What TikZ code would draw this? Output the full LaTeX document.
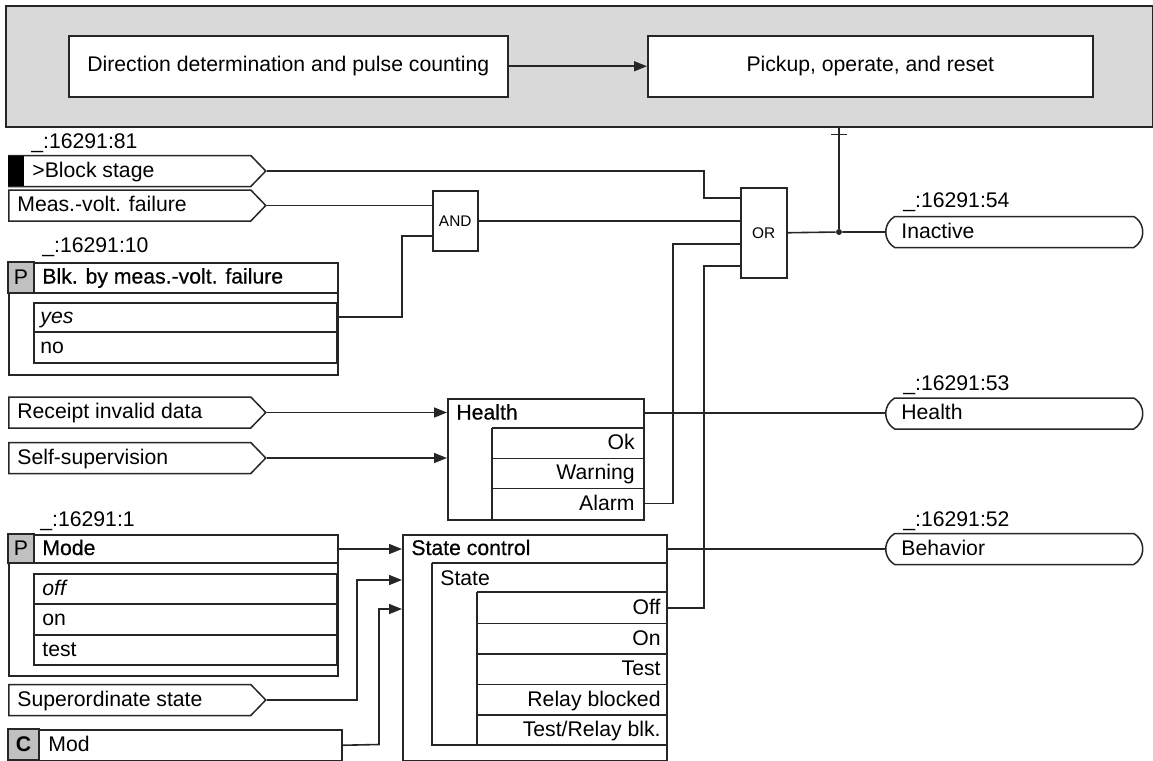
\documentclass[tikz,border=0pt]{standalone}
\usepackage{fontspec}
\setmainfont{Liberation Sans}
\newfontfamily\headfont[FakeBold=0.5]{Liberation Sans}
\usetikzlibrary{arrows.meta,shapes.symbols,shapes.misc}

\definecolor{framefill}{RGB}{217,217,217}
\definecolor{cellfill}{RGB}{192,192,192}
\definecolor{wirecol}{RGB}{38,38,38}
\def\pu{0.5pt}
\tikzset{
  wire/.style       = {draw=wirecol, line width=0.8pt},
  feed/.style       = {wire, -{Triangle[length=6.5pt, width=5pt]}},
  box/.style 2 args = {draw=wirecol, line width=0.75pt, fill=white, inner sep=0pt,
                       anchor=north west, minimum width=#1*\pu, minimum height=#2*\pu},
  part/.style       = {draw=wirecol, line width=0.75pt},
  cell/.style       = {part, fill=cellfill},
  insig/.style      = {signal, signal to=east, signal pointer angle=92,
                       draw=wirecol, line width=0.75pt, fill=white, inner sep=0pt,
                       anchor=west, minimum width=257*\pu, minimum height=31*\pu},
  outsig/.style     = {rounded rectangle, rounded rectangle arc length=120,
                       draw=wirecol, line width=0.75pt, fill=white, inner sep=0pt,
                       anchor=west, minimum width=257*\pu, minimum height=31*\pu},
  txt/.style        = {anchor=base west, inner sep=0pt},
  rtxt/.style       = {anchor=base east, inner sep=0pt},
  head/.style       = {txt, font=\fontsize{10.6}{12.5}\headfont},
  gatetxt/.style    = {font=\fontsize{7.7}{9}\selectfont},
  jdot/.style       = {circle, fill=wirecol, inner sep=0pt, minimum size=3pt},
}

\begin{document}
\begin{tikzpicture}[x=0.5pt, y=-0.5pt, font=\fontsize{10.6}{12.5}\selectfont]
  \useasboundingbox (0,0) rectangle (1153,761);

  % --- stage functions (grey frame) ---
  \node[box={1147}{121}, fill=framefill, line width=1pt] (frame) at (5,5) {};
  \node[box={439}{61}] (dirbox)  at (68,35)  {Direction determination and pulse counting};
  \node[box={445}{61}] (pickbox) at (647,35) {Pickup, operate, and reset};
  \draw[feed] (dirbox) -- (pickbox);

  % --- binary inputs ---
  \node[txt] (lbl81) at (31,148.5) {\_:16291:81};
  \node[insig] (blkstage) at (8,171) {};
  \fill[black] (8,156) rectangle (24,186);
  \node[txt] (tblkstage) at (32,177) {>Block stage};

  \node[insig] (meas) at (8,205.5) {};
  \node[txt] (tmeas) at (17,211.5) {Meas.-volt. failure};

  % --- parameter: blk. by meas.-volt. failure ---
  \node[txt] (lbl10) at (42,252) {\_:16291:10};
  \node[box={329}{112}] (blkpar) at (8,262) {};
  \draw[part] (8,293) -- (337,293);
  \draw[cell] (8,262) rectangle (34,293);
  \draw[part] (34,303) rectangle (337,363);
  \draw[part] (34,332) -- (337,332);
  \node (tpblk) at (21,277.5) {P};
  \node[head] (tblkpar) at (42,283.5) {Blk. by meas.-volt. failure};
  \node[txt] (tyes) at (40,323.5) {\itshape yes};
  \node[txt] (tno)  at (40,353.5) {no};

  % --- AND / OR ---
  \node[box={45}{60}, gatetxt] (and) at (432,190) {AND};
  \node[box={46}{90}, gatetxt] (or)  at (740,187) {OR};
  \coordinate (andin2) at (432,236);
  \coordinate (yesout) at (337,317);
  \coordinate (orin1)  at (740,198);
  \coordinate (orin3)  at (740,244);
  \coordinate (orin4)  at (740,266);

  % --- health ---
  \node[insig] (receipt) at (8,412.5) {};
  \node[txt] (treceipt) at (17,418.5) {Receipt invalid data};
  \node[insig] (selfsup) at (8,458) {};
  \node[txt] (tselfsup) at (17,464) {Self-supervision};

  \node[box={196}{121}] (hlth) at (447,398) {};
  \draw[part] (492,428) -- (643,428);
  \draw[part] (492,428) -- (492,519);
  \draw[part] (492,458.5) -- (643,458.5);
  \draw[part] (492,488.5) -- (643,488.5);
  \node[head] (thlth)  at (456,419.5) {Health};
  \node[rtxt] (tok)    at (635,449)   {Ok};
  \node[rtxt] (twarn)  at (635,479.5) {Warning};
  \node[rtxt] (talarm) at (635,510)   {Alarm};
  \coordinate (hlthout)  at (643,413);
  \coordinate (alarmout) at (643,503.5);

  % --- parameter: mode ---
  \node[txt] (lbl1) at (40,526) {\_:16291:1};
  \node[box={329}{141}] (modepar) at (8,534) {};
  \draw[part] (8,563) -- (337,563);
  \draw[cell] (8,534) rectangle (34,563);
  \draw[part] (34,574) rectangle (337,665);
  \draw[part] (34,604) -- (337,604);
  \draw[part] (34,635) -- (337,635);
  \node (tpmode) at (21,548.5) {P};
  \node[head] (tmode) at (42,555) {Mode};
  \node[txt] (toff)  at (42,595) {\itshape off};
  \node[txt] (ton)   at (42,625.5) {on};
  \node[txt] (ttest) at (42,656) {test};
  \coordinate (modeout) at (337,549);

  \node[insig] (super) at (8,700) {};
  \node[txt] (tsuper) at (17,706) {Superordinate state};

  \node[box={333}{31}] (mod) at (8,729) {};
  \draw[cell] (8,729) rectangle (39,760);
  \node[font=\fontsize{10.6}{12.5}\selectfont\bfseries] (tcmod) at (23.5,744.5) {C};
  \node[txt] (tmod) at (48,751) {Mod};

  % --- state control ---
  \node[box={264}{226}] (state) at (402,534) {};
  \draw[part] (432,563) -- (666,563);
  \draw[part] (432,563) -- (432,745) -- (666,745);
  \draw[part] (477,592) -- (666,592);
  \draw[part] (477,592) -- (477,745);
  \foreach \yy in {623.5,654,684.5,715}
    \draw[part] (477,\yy) -- (666,\yy);
  \node[head] (tstate)  at (411,555) {State control};
  \node[txt]  (tstsub)  at (440,585) {State};
  \node[rtxt] (tsoff)   at (661,614) {Off};
  \node[rtxt] (tson)    at (661,645) {On};
  \node[rtxt] (tstest)  at (661,675) {Test};
  \node[rtxt] (tsrel)   at (661,706) {Relay blocked};
  \node[rtxt] (tstrel)  at (661,736) {Test/Relay blk.};
  \coordinate (stin2)  at (402,580);
  \coordinate (stin3)  at (402,609);
  \coordinate (stout)  at (666,549);
  \coordinate (offout) at (666,608);

  % --- outputs ---
  \node[txt] (lbl54) at (903,207.5) {\_:16291:54};
  \node[outsig] (inactive) at (885,232) {};
  \node[txt] (tinactive) at (901,238) {Inactive};
  \node[txt] (lbl53) at (903,390) {\_:16291:53};
  \node[outsig] (hout) at (885,413.5) {};
  \node[txt] (thout) at (901,419.5) {Health};
  \node[txt] (lbl52) at (903,526) {\_:16291:52};
  \node[outsig] (behav) at (885,549) {};
  \node[txt] (tbehav) at (901,555) {Behavior};

  % --- connections ---
  \draw[wire] (blkstage.east) -- (704,171) |- (orin1);
  \draw[wire] (meas.east) -- (meas.east -| and.west);
  \draw[wire] (yesout) -- (402,317) |- (andin2);
  \draw[wire] (and.east) -- (and.east -| or.west);
  \draw[wire] (alarmout) -- (673,503.5) |- (orin3);
  \draw[wire] (offout) -- (704,608) |- (orin4);
  \node[jdot] (junc) at (839,232) {};
  \coordinate (tick) at (839,134.5);
  \draw[wire] (or.east) -- (junc) -- (inactive.west);
  \draw[wire] (junc) -- (junc |- frame.south);
  \draw[wire] ([xshift=-8*\pu]tick) -- ([xshift=8*\pu]tick);

  \draw[feed] (receipt.east) -- (receipt.east -| hlth.west);
  \draw[feed] (selfsup.east) -- (selfsup.east -| hlth.west);
  \draw[wire] (hlthout) -- (hlthout -| hout.west);

  \draw[feed] (modeout) -- (modeout -| state.west);
  \draw[feed] (super.east) -- (357,700) |- (stin2);
  \draw[feed] (mod.east) -- (379,744.5) |- (stin3);
  \draw[wire] (stout) -- (stout -| behav.west);
\end{tikzpicture}
\end{document}
